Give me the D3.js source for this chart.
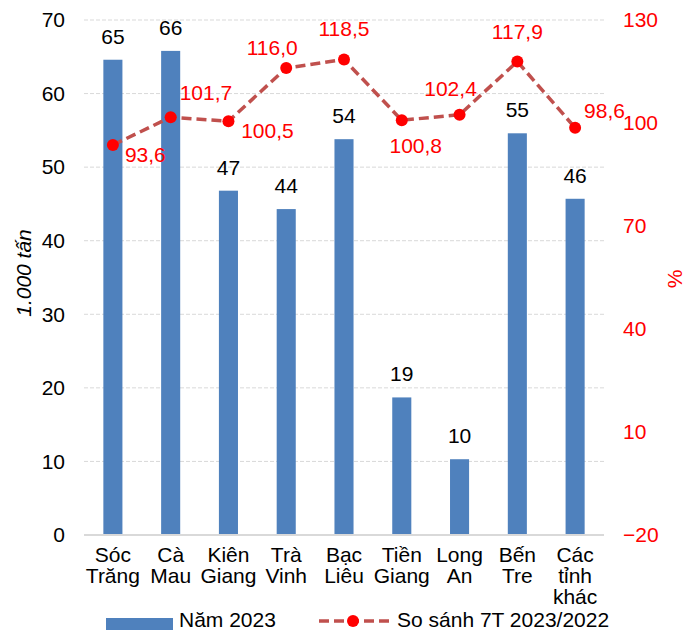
<!DOCTYPE html>
<html>
<head>
<meta charset="utf-8">
<script src="https://cdn.jsdelivr.net/npm/d3@7"></script>
<style>
  html, body { margin: 0; padding: 0; background: #fff; }
  svg { display: block; font-family: Arial, "Liberation Sans", sans-serif; }
</style>
</head>
<body>
<svg id="chart" width="687" height="631"></svg>
<script>
// ---- data ----
const categories = [
  ["Sóc", "Trăng"], ["Cà", "Mau"], ["Kiên", "Giang"], ["Trà", "Vinh"],
  ["Bạc", "Liêu"], ["Tiền", "Giang"], ["Long", "An"], ["Bến", "Tre"],
  ["Các", "tỉnh", "khác"]
];
const volume2023 = [64.6, 65.8, 46.8, 44.3, 53.8, 18.7, 10.3, 54.6, 45.7];
const volumeLabels = ["65", "66", "47", "44", "54", "19", "10", "55", "46"];
const ratio = [93.6, 101.7, 100.5, 116.0, 118.5, 100.8, 102.4, 117.9, 98.6];
const ratioLabels = ["93,6", "101,7", "100,5", "116,0", "118,5", "100,8", "102,4", "117,9", "98,6"];
const ratioLabelPlacement = ["belowRight", "aboveRight", "belowRight3", "aboveLeft", "above", "belowRight2", "aboveLeft2", "above", "right"];
const leftTicks = [0, 10, 20, 30, 40, 50, 60, 70];
const rightTicks = [-20, 10, 40, 70, 100, 130];
const seriesNames = ["Năm 2023", "So sánh 7T 2023/2022"];

// ---- layout ----
const svg = d3.select("#chart");
const pLeft = 84, pRight = 604, pTop = 20, pBottom = 535;
const barColor = "#4f81bd", lineColor = "#c0504d", red = "#ff0000";
const fs = 21;
const ff = "Arial, 'Liberation Sans', sans-serif";

const x = d3.scaleBand().domain(d3.range(categories.length)).range([pLeft, pRight]).paddingInner(0.67).paddingOuter(0.335);
const yL = d3.scaleLinear().domain([0, 70]).range([pBottom, pTop]);
const yR = d3.scaleLinear().domain([-20, 130]).range([pBottom, pTop]);
const cx = i => x(i) + x.bandwidth() / 2;

// gridlines
svg.append("g").selectAll("line").data(leftTicks.filter(t => t > 0)).join("line")
  .attr("x1", pLeft).attr("x2", pRight)
  .attr("y1", d => yL(d)).attr("y2", d => yL(d))
  .attr("stroke", "#d9d9d9").attr("stroke-width", 1).attr("stroke-dasharray", "4,2");

// left axis
const gL = svg.append("g").attr("transform", `translate(${pLeft},0)`)
  .call(d3.axisLeft(yL).tickValues(leftTicks).tickSize(0).tickPadding(19));
gL.select(".domain").remove();
gL.selectAll("text").attr("font-size", fs).attr("fill", "#000").attr("font-family", ff);

// right axis
const gR = svg.append("g").attr("transform", `translate(${pRight},0)`)
  .call(d3.axisRight(yR).tickValues(rightTicks).tickSize(0).tickPadding(19));
gR.select(".domain").remove();
gR.selectAll("text").attr("font-size", fs).attr("fill", red).attr("font-family", ff);

// bars
svg.append("g").selectAll("rect").data(volume2023).join("rect")
  .attr("x", (d, i) => x(i)).attr("width", x.bandwidth())
  .attr("y", d => yL(d)).attr("height", d => yL(0) - yL(d))
  .attr("fill", barColor);

// bottom axis line
svg.append("line").attr("x1", pLeft).attr("x2", pRight).attr("y1", pBottom).attr("y2", pBottom)
  .attr("stroke", "#d9d9d9").attr("stroke-width", 2);

// bar labels
svg.append("g").selectAll("text").data(volume2023).join("text")
  .attr("x", (d, i) => cx(i)).attr("y", d => yL(d) - 16)
  .attr("text-anchor", "middle").attr("font-size", fs).attr("fill", "#000")
  .text((d, i) => volumeLabels[i]);

// category labels
const cat = svg.append("g").selectAll("text").data(categories).join("text")
  .attr("text-anchor", "middle").attr("font-size", fs).attr("fill", "#000");
cat.each(function(lines, i) {
  d3.select(this).selectAll("tspan").data(lines).join("tspan")
    .attr("x", cx(i)).attr("y", (l, j) => 562 + j * 21).text(l => l);
});

// line
const line = d3.line().x((d, i) => cx(i)).y(d => yR(d));
svg.append("path").datum(ratio).attr("d", line)
  .attr("fill", "none").attr("stroke", lineColor).attr("stroke-width", 3.5)
  .attr("stroke-dasharray", "10,5");
svg.append("g").selectAll("circle").data(ratio).join("circle")
  .attr("cx", (d, i) => cx(i)).attr("cy", d => yR(d)).attr("r", 6)
  .attr("fill", red);

// line labels
const place = {
  belowRight: { dx: 12, dy: 17, anchor: "start" },
  belowRight2: { dx: 14, dy: 33, anchor: "middle" },
  belowRight3: { dx: 39, dy: 17, anchor: "middle" },
  aboveRight: { dx: 9, dy: -17, anchor: "start" },
  aboveLeft: { dx: -14, dy: -13, anchor: "middle" },
  aboveLeft2: { dx: -9, dy: -19, anchor: "middle" },
  above: { dx: 0, dy: -23, anchor: "middle" },
  right: { dx: 9, dy: -10, anchor: "start" }
};
svg.append("g").selectAll("text").data(ratio).join("text")
  .attr("x", (d, i) => cx(i) + place[ratioLabelPlacement[i]].dx)
  .attr("y", (d, i) => yR(d) + place[ratioLabelPlacement[i]].dy)
  .attr("text-anchor", (d, i) => place[ratioLabelPlacement[i]].anchor)
  .attr("font-size", fs).attr("fill", red)
  .text((d, i) => ratioLabels[i]);

// axis titles
svg.append("text").attr("transform", "translate(31,273) rotate(-90)")
  .attr("text-anchor", "middle").attr("font-size", fs).attr("font-style", "italic")
  .attr("fill", "#000").text("1.000 tấn");
svg.append("text").attr("transform", "translate(682,279) rotate(-90)")
  .attr("text-anchor", "middle").attr("font-size", fs)
  .attr("fill", red).text("%");

// legend
const lg = svg.append("g");
lg.append("rect").attr("x", 106).attr("y", 618).attr("width", 67).attr("height", 12).attr("fill", barColor);
lg.append("text").attr("x", 179).attr("y", 626.5).attr("font-size", fs).attr("fill", "#000").text(seriesNames[0]);
lg.append("line").attr("x1", 319).attr("x2", 389).attr("y1", 621).attr("y2", 621)
  .attr("stroke", lineColor).attr("stroke-width", 3.5).attr("stroke-dasharray", "10,5");
lg.append("circle").attr("cx", 353).attr("cy", 621).attr("r", 6).attr("fill", red);
lg.append("text").attr("x", 397).attr("y", 626.5).attr("font-size", fs).attr("fill", "#000").text(seriesNames[1]);
</script>
</body>
</html>
